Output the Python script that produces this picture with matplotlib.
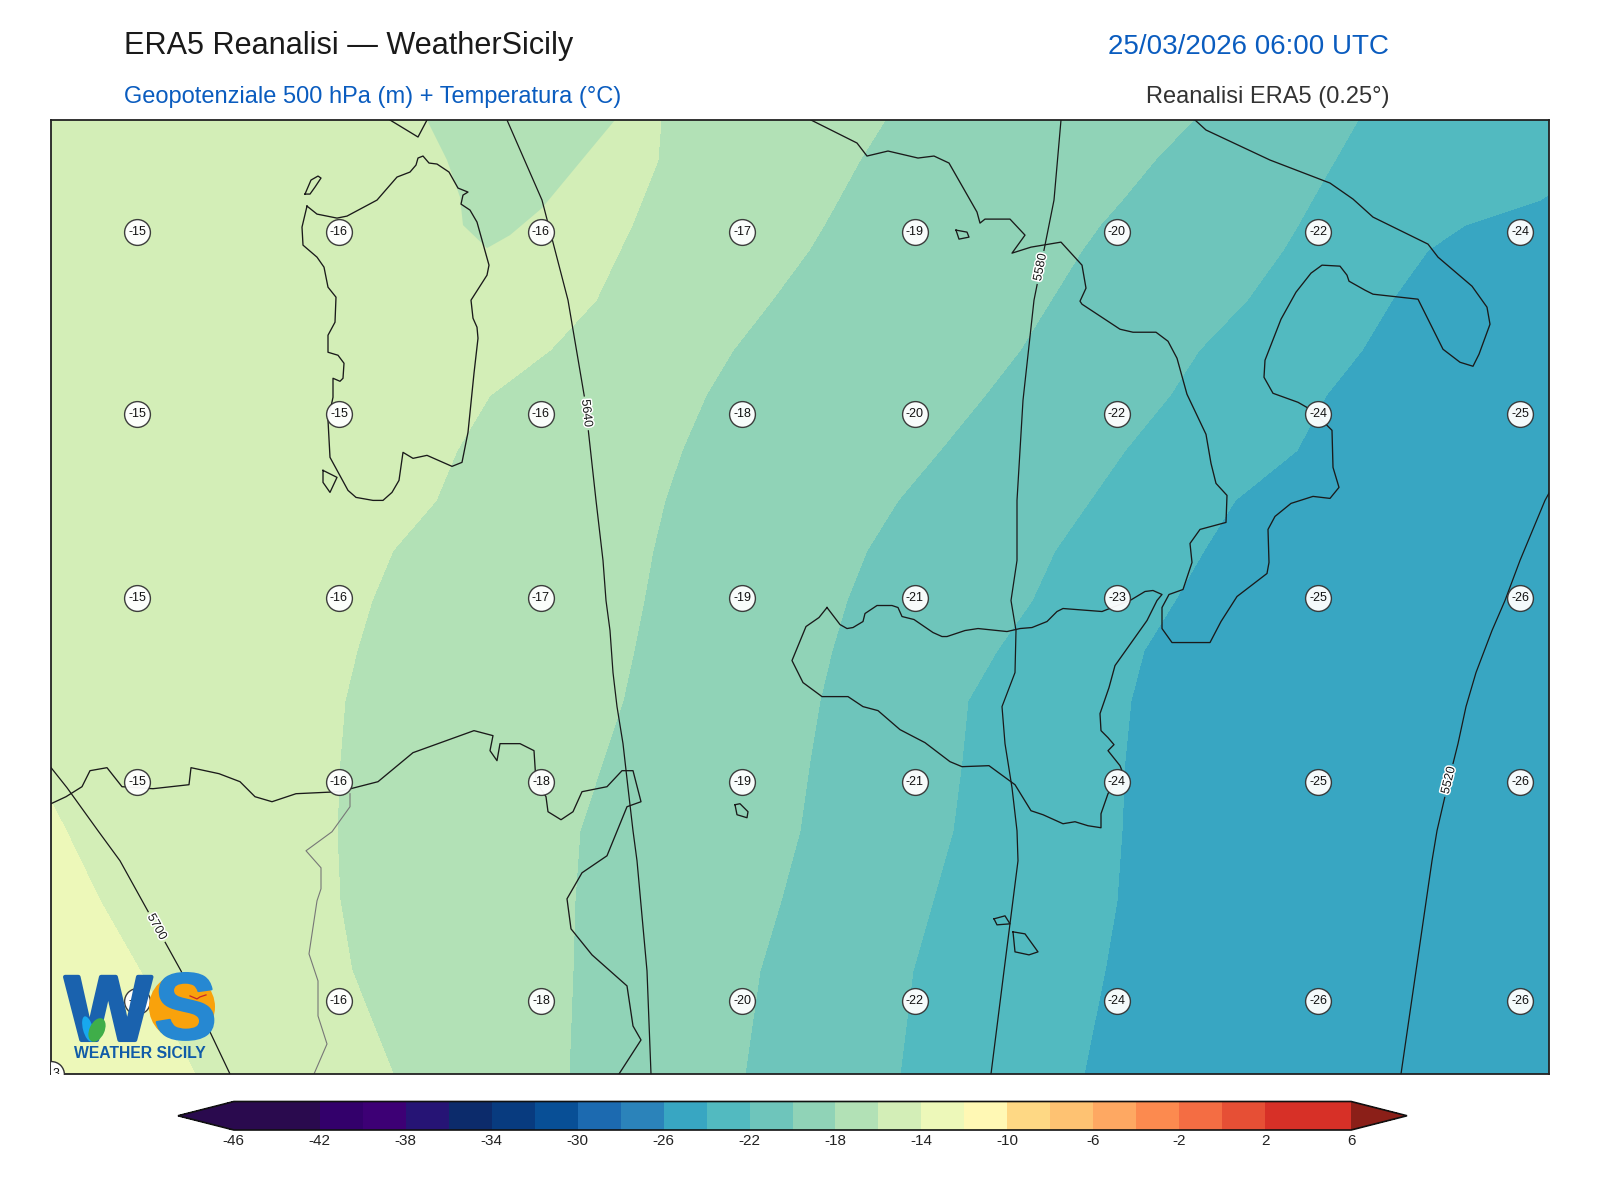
import numpy as np
import matplotlib
matplotlib.use("Agg")
import matplotlib.pyplot as plt
import matplotlib.patheffects as pe
from matplotlib.colors import ListedColormap, BoundaryNorm
from matplotlib.patches import Circle, Ellipse

plt.rcParams['font.family'] = ['Liberation Sans', 'DejaVu Sans']

# ---------------- colour scale ----------------
levels = list(range(-46, 8, 2))
band_colors = ['#2a0a4e', '#2a0a4e', '#33006b', '#3d0075', '#261475', '#0c2b6b', '#083b7f', '#084f96',
               '#1c6ab0', '#2b83ba', '#38a6c2', '#52bac0', '#6ec5bb', '#90d3b7', '#b2e1b6', '#d3eeb7',
               '#edf8b9', '#fff8b4', '#fed884', '#fec272', '#fea862', '#fc8a4f', '#f46d43', '#e64f35',
               '#d73027', '#d73027']
under_color = '#2a0a4e'
over_color = '#8b1f18'
bar_ticks = list(range(-46, 8, 4))

# ---------------- temperature: where each isotherm crosses each map row ----------------
t_rows = [120, 160, 200, 225, 250, 300, 350, 395, 450, 500, 550, 600, 650, 700, 760, 830, 900, 970, 1073]
t_levels = [-12, -14, -16, -18, -20, -22, -24, -26]
iso_m12 = [-400] * 19
iso_m14 = [-200, -190, -180, -175, -170, -160, -140, -120, -100, -80, -60, -40, -20, 0, 30, 66, 100, 140, 195]
iso_m16 = [661, 658, 642, 632, 620, 596, 550, 490, 457, 436, 393, 372, 357, 345, 340, 337, 340, 352, 393]
iso_m18 = [885, 860, 838, 824, 809, 772, 733, 706, 682, 665, 653, 644, 634, 623, 603, 580, 575, 573, 569]
iso_m20 = [1193, 1155, 1122, 1100, 1082, 1051, 1020, 985, 940, 898, 867, 847, 832, 820, 810, 800, 781, 760, 745]
iso_m22 = [1358, 1335, 1312, 1298, 1283, 1247, 1199, 1170, 1125, 1090, 1055, 1032, 997, 968, 962, 953, 933, 913, 900]
iso_m24 = [1640, 1600, 1540, 1465, 1428, 1392, 1362, 1326, 1297, 1235, 1204, 1175, 1144, 1131, 1125, 1122, 1117, 1105, 1084]
iso_m26 = [1800] * 19
lobe_x = [427, 447, 460, 463, 487, 510, 542, 600, 615]
lobe_y = [120, 160, 197, 225, 248, 235, 208, 138, 120]

# ---------------- geopotential: where each isohypse crosses each map row ----------------
z_rows = [120, 200, 300, 400, 500, 560, 600, 630, 672, 706, 743, 787, 830, 860, 970, 1073]
z_levels = [5760, 5700, 5640, 5580, 5520, 5460]
z5760 = [-800] * 16
z5700 = [-420, -360, -280, -200, -130, -90, -65, -45, -20, 5, 32, 67, 98, 120, 181, 230]
z5640 = [507, 542, 568, 585, 596, 603, 606, 610, 613, 617, 623, 628, 633, 637, 647, 651]
z5580 = [1061, 1054, 1034, 1023, 1017, 1017, 1011, 1016, 1015, 1002, 1005, 1012, 1017, 1018, 1004, 991]
z5520 = [1700, 1680, 1650, 1600, 1545, 1520, 1505, 1492, 1476, 1466, 1458, 1447, 1437, 1432, 1416, 1401]
z5460 = [2000] * 16
z_label_spots = [(157, 926), (587, 413), (1039, 267), (1450, 780)]

# ---------------- temperature labels ----------------
label_x = [137, 339, 541, 742, 915, 1117, 1318, 1520]
label_y = [232, 414, 597, 781, 1000]
label_values = [
    [-15, -16, -16, -17, -19, -20, -22, -24],
    [-15, -15, -16, -18, -20, -22, -24, -25],
    [-15, -16, -17, -19, -21, -23, -25, -26],
    [-15, -16, -18, -19, -21, -24, -25, -26],
    [-15, -16, -18, -20, -22, -24, -26, -26],
]
corner_label = (51, 1073, -13)

# ---------------- coastlines ----------------
italy_x = [1195, 1206, 1270, 1330, 1353, 1373, 1428, 1438, 1472, 1487, 1490, 1479, 1473, 1460, 1443, 1418, 1373, 1365, 1349,
           1347, 1340, 1322, 1311, 1296, 1281, 1265, 1264, 1273, 1298, 1312, 1332, 1333, 1339, 1330, 1313, 1291, 1275, 1268,
           1269, 1267, 1237, 1221, 1210, 1172, 1162, 1162, 1169, 1183, 1192, 1190, 1200, 1226, 1227, 1216, 1211, 1206, 1187,
           1177, 1168, 1156, 1133, 1120, 1082, 1080, 1086, 1082, 1061, 1031, 1012, 1025, 1010, 985, 980, 977, 949, 934, 918,
           888, 867, 857, 811]
italy_y = [120, 130, 160, 183, 199, 217, 244, 257, 286, 307, 324, 354, 366, 362, 349, 299, 294, 290, 281,
           275, 266, 265, 273, 292, 319, 360, 377, 393, 402, 410, 430, 467, 487, 498, 496, 503, 516, 529,
           562, 573, 596, 621, 642, 642, 628, 607, 594, 589, 562, 543, 529, 522, 495, 483, 463, 434, 394,
           358, 341, 332, 332, 329, 304, 301, 288, 265, 242, 247, 253, 235, 219, 219, 223, 212, 163, 156, 158,
           151, 156, 143, 120]
sardinia_x = [307, 317, 337, 347, 377, 397, 410, 416, 418, 423, 429, 437, 449, 458, 468, 463, 461, 470, 477, 489, 487, 471,
              473, 477, 478, 474, 468, 462, 452, 427, 413, 403, 399, 392, 383, 373, 356, 348, 330, 328, 333, 333, 340, 343,
              344, 338, 328, 328, 335, 336, 328, 324, 317, 303, 302, 307]
sardinia_y = [206, 214, 218, 216, 200, 177, 172, 165, 158, 156, 163, 164, 172, 188, 192, 195, 204, 210, 222, 265, 275, 300,
              318, 327, 338, 373, 432, 462, 466, 455, 458, 452, 480, 492, 500, 500, 497, 490, 457, 420, 397, 378, 381, 378,
              363, 355, 352, 335, 322, 297, 287, 267, 257, 245, 227, 206]
sicily_x = [827, 819, 806, 792, 803, 822, 848, 863, 878, 900, 925, 950, 962, 989, 1015, 1031, 1043, 1063, 1075, 1088, 1101,
            1101, 1108, 1122, 1120, 1108, 1114, 1108, 1101, 1100, 1109, 1115, 1147, 1157, 1162, 1153, 1145, 1130, 1102, 1063,
            1057, 1047, 1032, 1020, 1007, 978, 965, 947, 942, 933, 914, 902, 898, 892, 877, 865, 863, 853, 847, 840, 827]
sicily_y = [607, 617, 626, 660, 682, 696, 696, 706, 710, 729, 742, 761, 766, 765, 784, 810, 814, 823, 821, 825, 827,
            813, 793, 770, 765, 750, 744, 737, 730, 713, 687, 665, 620, 600, 594, 590, 591, 600, 611, 608,
            611, 621, 627, 628, 631, 628, 630, 636, 636, 632, 619, 616, 607, 605, 605, 613, 621, 627, 628, 624, 607]
africa_x = [51, 66, 82, 90, 107, 122, 153, 189, 191, 219, 240, 255, 272, 296, 339, 378, 413, 474, 493, 490, 497, 500, 520,
            534, 536, 546, 548, 561, 573, 582, 607, 622, 633, 641, 627, 607, 582, 567, 571, 592, 627, 633, 641, 619]
africa_y = [803, 796, 786, 770, 767, 786, 788, 784, 767, 773, 781, 796, 801, 793, 791, 781, 752, 730, 735, 750, 760, 743,
            743, 750, 781, 796, 811, 819, 811, 791, 786, 770, 770, 801, 806, 855, 872, 898, 928, 954, 985, 1025, 1039, 1073]
corsica_x = [390, 418, 427]
corsica_y = [120, 137, 120]
asinara_x = [305, 311, 318, 321, 315, 310, 305]
asinara_y = [194, 180, 176, 178, 187, 194, 194]
antioco_x = [323, 337, 330, 323, 323]
antioco_y = [470, 477, 492, 482, 470]
ischia_x = [956, 967, 969, 959, 956]
ischia_y = [230, 232, 237, 239, 230]
pantelleria_x = [735, 740, 748, 747, 737, 735]
pantelleria_y = [804, 803, 811, 817, 814, 804]
gozo_x = [994, 1005, 1010, 997, 994]
gozo_y = [918, 915, 923, 924, 918]
malta_x = [1013, 1025, 1038, 1029, 1015, 1013]
malta_y = [931, 933, 951, 954, 951, 931]
border_x = [350, 350, 332, 306, 321, 321, 317, 309, 318, 318, 327, 314]
border_y = [793, 806, 831, 850, 867, 888, 900, 953, 980, 1015, 1043, 1073]

W, H = 1600, 1200
fig = plt.figure(figsize=(16, 12), dpi=100, facecolor='white')
ax = fig.add_axes([51 / W, 1 - 1074 / H, (1549 - 51) / W, (1074 - 120) / H])
ax.set_xlim(51, 1549)
ax.set_ylim(1073, 120)
ax.set_xticks([])
ax.set_yticks([])
for s in ax.spines.values():
    s.set_linewidth(1.3)
    s.set_color('#222222')

cmap = ListedColormap(band_colors)
cmap.set_under(under_color)
cmap.set_over(over_color)
norm = BoundaryNorm(levels, cmap.N)

# temperature
tx = np.array([iso_m12, iso_m14, iso_m16, iso_m18, iso_m20, iso_m22, iso_m24, iso_m26], dtype=float).T
ty = np.repeat(np.array(t_rows, dtype=float)[:, None], len(t_levels), axis=1)
tz = np.repeat(np.array(t_levels, dtype=float)[None, :], len(t_rows), axis=0)
cf = ax.contourf(tx, ty, tz, levels=levels, cmap=cmap, norm=norm, extend='both', zorder=1)
ax.fill(lobe_x, lobe_y, color=band_colors[14], lw=0, zorder=1.5)

# coastlines
for cx, cy in [(italy_x, italy_y), (sardinia_x, sardinia_y), (sicily_x, sicily_y), (africa_x, africa_y),
               (corsica_x, corsica_y), (asinara_x, asinara_y), (antioco_x, antioco_y), (ischia_x, ischia_y),
               (pantelleria_x, pantelleria_y), (gozo_x, gozo_y), (malta_x, malta_y)]:
    ax.plot(cx, cy, color='#1a1a1a', lw=0.95, zorder=3, solid_joinstyle='round')
ax.plot(border_x, border_y, color='#777777', lw=0.8, zorder=2.5)

# geopotential
zx = np.array([z5760, z5700, z5640, z5580, z5520, z5460], dtype=float).T
zy = np.repeat(np.array(z_rows, dtype=float)[:, None], len(z_levels), axis=1)
zz = np.repeat(np.array(z_levels, dtype=float)[None, :], len(z_rows), axis=0)
cs = ax.contour(zx, zy, zz, levels=[5520, 5580, 5640, 5700], colors='#1a1a1a', linewidths=0.9, zorder=4)
lbls = ax.clabel(cs, fmt='%d', fontsize=9, manual=z_label_spots, inline=True, inline_spacing=3)
for t in lbls:
    t.set_path_effects([pe.withStroke(linewidth=2.2, foreground='white')])
    t.set_zorder(5)

# temperature labels
for yy, row in zip(label_y, label_values):
    for xx, v in zip(label_x, row):
        ax.scatter([xx], [yy], s=345, facecolor='white', edgecolor='#333333', linewidths=1.0, alpha=0.95, zorder=6)
        ax.text(xx, yy, str(v), ha='center', va='center', fontsize=9, color='#111111', zorder=7)
ax.scatter([corner_label[0]], [corner_label[1]], s=345, facecolor='white', edgecolor='#333333', linewidths=1.0, zorder=6)
ax.text(corner_label[0], corner_label[1], str(corner_label[2]), ha='center', va='center', fontsize=9,
        color='#111111', zorder=7, clip_on=True)

# logo
ax.add_patch(Circle((182, 1006), 33, fc='#f9a20c', ec='none', zorder=8))
ax.text(65, 1039, 'W', fontsize=66, fontweight='bold', color='#1a62ae', va='baseline', ha='left', zorder=9,
        path_effects=[pe.withStroke(linewidth=3, foreground='#1a62ae')])
ax.text(154, 1038, 'S', fontsize=68, fontweight='bold', color='#2688d2', va='baseline', ha='left', zorder=9,
        path_effects=[pe.withStroke(linewidth=1.5, foreground='#2688d2')])
ax.add_patch(Ellipse((88, 1028), 10, 26, angle=-15, fc='#18a8ee', ec='none', zorder=10))
ax.add_patch(Ellipse((97, 1029), 15, 25, angle=25, fc='#3fae49', ec='none', zorder=11))
ax.plot([190, 197, 200, 206], [995, 998, 996, 994], color='#c8262a', lw=0.9, zorder=12)
ax.text(140, 1053, 'WEATHER SICILY', fontsize=11.3, fontweight='bold', color='#115ca8', ha='center', va='center', zorder=12)

# colour bar
cax = fig.add_axes([178 / W, 1 - 1130 / H, (1407 - 178) / W, 28.5 / H])
cb = fig.colorbar(cf, cax=cax, orientation='horizontal', extend='both', extendfrac=0.05,
                  ticks=bar_ticks, spacing='uniform', drawedges=False)
cb.outline.set_linewidth(1.2)
cb.outline.set_edgecolor('#111111')
cb.ax.tick_params(length=0, pad=3, labelsize=11, labelcolor='#222222')
cb.ax.minorticks_off()
cb.set_ticklabels([str(t) for t in bar_ticks])

# titles
fig.text(124 / W, 1 - 54 / H, 'ERA5 Reanalisi — WeatherSicily', fontsize=22.1, color='#1a1a1a', ha='left', va='baseline')
fig.text(1389 / W, 1 - 54 / H, '25/03/2026 06:00 UTC', fontsize=20, color='#0a5cbf', ha='right', va='baseline')
fig.text(124 / W, 1 - 103 / H, 'Geopotenziale 500 hPa (m) + Temperatura (°C)', fontsize=17.0, color='#0a5cbf', ha='left', va='baseline')
fig.text(1389 / W, 1 - 103 / H, 'Reanalisi ERA5 (0.25°)', fontsize=17.05, color='#333333', ha='right', va='baseline')

fig.savefig('out.png', dpi=100, facecolor='white')
